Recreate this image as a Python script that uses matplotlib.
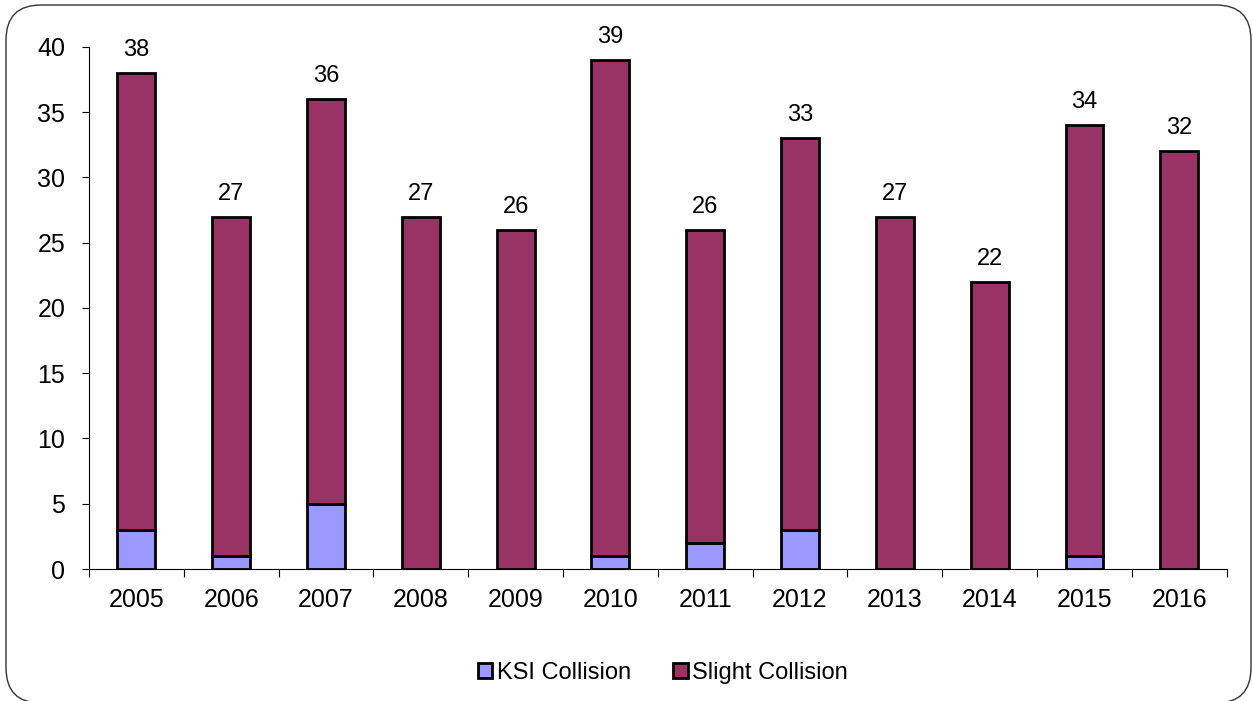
import numpy as np
import matplotlib.pyplot as plt
from matplotlib.patches import FancyBboxPatch, Patch

plt.rcParams['font.family'] = ['Liberation Sans', 'DejaVu Sans']

years = ['2005', '2006', '2007', '2008', '2009', '2010',
         '2011', '2012', '2013', '2014', '2015', '2016']
ksi = np.array([3, 1, 5, 0, 0, 1, 2, 3, 0, 0, 1, 0])
totals = np.array([38, 27, 36, 27, 26, 39, 26, 33, 27, 22, 34, 32])
slight = totals - ksi

ksi_color = '#9999FF'
slight_color = '#993366'

W, H = 1253, 701
fig = plt.figure(figsize=(W / 100, H / 100), dpi=100)
ax = fig.add_axes([0.071, 0.1883, 0.908, 0.7447])

x = np.arange(len(years))
w = 0.4
ax.bar(x, ksi, w, color=ksi_color, edgecolor='black', linewidth=2.0, label='KSI Collision')
ax.bar(x, slight, w, bottom=ksi, color=slight_color, edgecolor='black', linewidth=2.0,
       label='Slight Collision')

for xi, t in zip(x, totals):
    ax.text(xi, t + 1.3, str(t), ha='center', va='baseline', fontsize=17)

ax.set_xlim(-0.5, len(years) - 0.5)
ax.set_ylim(0, 40)
ax.set_yticks(range(0, 41, 5))
ax.set_xticks(x)
ax.set_xticklabels(years, fontsize=18)
ax.set_xticks(np.arange(-0.5, len(years), 1), minor=True)
ax.tick_params(axis='x', which='major', length=0, pad=14)
ax.tick_params(axis='x', which='minor', length=6, direction='out', width=0.8)
ax.tick_params(axis='y', labelsize=18, length=5, width=0.8, direction='out', pad=12)
for s in ['top', 'right']:
    ax.spines[s].set_visible(False)
for s in ['left', 'bottom']:
    ax.spines[s].set_linewidth(0.8)

handles = [Patch(facecolor=ksi_color, edgecolor='black', linewidth=2.0, label='KSI Collision'),
           Patch(facecolor=slight_color, edgecolor='black', linewidth=2.0, label='Slight Collision')]
fig.legend(handles=handles, loc='center', bbox_to_anchor=(663 / W, 0.04), ncol=2, frameon=False,
           fontsize=17, handlelength=0.6, handleheight=0.6, handletextpad=0.2, columnspacing=1.8)

# rounded outer frame
border = FancyBboxPatch((6 / W, -2 / H), 1245 / W, 698 / H,
                        boxstyle='round,pad=0,rounding_size=0.028',
                        transform=fig.transFigure, facecolor='none', edgecolor='#333333',
                        linewidth=1.0, mutation_aspect=W / H)
fig.patches.append(border)

fig.savefig('out.png', dpi=100)
